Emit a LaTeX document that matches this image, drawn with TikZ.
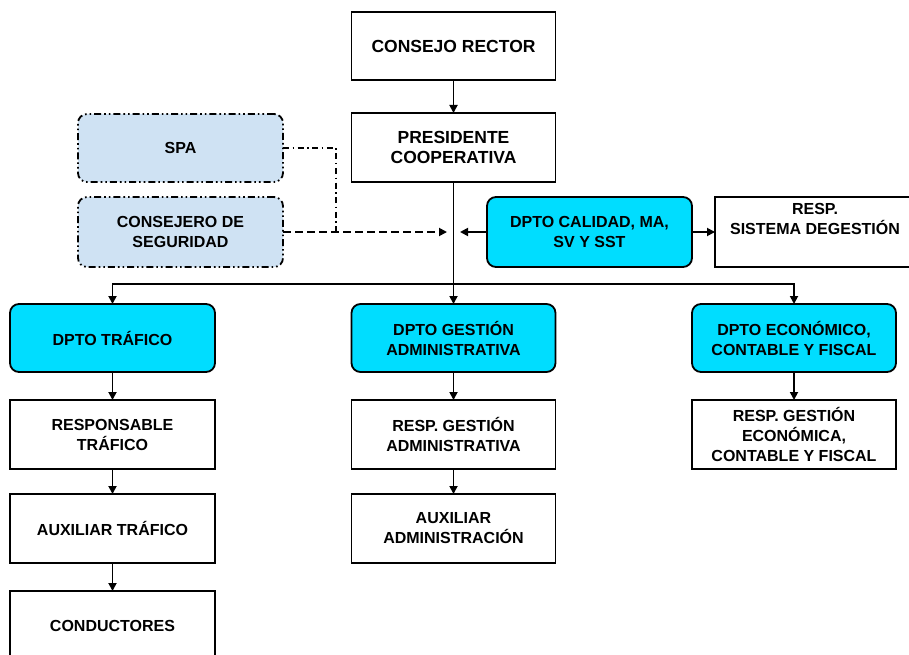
\documentclass[tikz,border=0pt]{standalone}
\usepackage{fontspec}
\setmainfont{Liberation Sans}
\usetikzlibrary{arrows.meta}
\definecolor{cyanbox}{RGB}{0,221,255}
\definecolor{lightbox}{RGB}{207,226,243}
\begin{document}
\begin{tikzpicture}[x=1pt,y=-1pt,
  base/.style={draw=black, line width=1.8pt, align=center, inner sep=0pt, outer sep=0pt, text=black,
    font=\bfseries\fontsize{16}{20}\selectfont},
  big/.style={font=\bfseries\fontsize{17.5}{20}\selectfont},
  wbox/.style={base, rectangle, fill=white},
  cbox/.style={base, rectangle, rounded corners=9pt, fill=cyanbox},
  lbox/.style={base, rectangle, rounded corners=9pt, fill=lightbox,
    dash pattern=on 7pt off 3pt on 1.6pt off 3pt on 1.6pt off 3pt},
  arr/.style={-{Triangle[length=8pt,width=8pt]}, line width=1.8pt},
  dotline/.style={line width=1.6pt, dash pattern=on 6pt off 3.5pt on 1.6pt off 3.5pt},
  dline/.style={line width=1.6pt, dash pattern=on 8pt off 4pt}]
\useasboundingbox (0,0) rectangle (909,655);
\fill[white] (0,0) rectangle (909,655);
% top
\node[wbox, big, minimum width=204pt, minimum height=68pt] (cr) at (453.5,46) {CONSEJO RECTOR};
\node[wbox, big, minimum width=204pt, minimum height=69pt] (pres) at (453.5,147.5) {PRESIDENTE\\COOPERATIVA};
% left advisory
\node[lbox, minimum width=205pt, minimum height=68pt] (spa) at (180.5,148) {SPA};
\node[lbox, minimum width=205pt, minimum height=70pt] (cons) at (180.5,232) {CONSEJERO DE\\SEGURIDAD};
% quality
\node[cbox, minimum width=205pt, minimum height=70pt] (cal) at (589.5,232) {DPTO CALIDAD, MA,\\SV Y SST};
\node[wbox, minimum width=200pt, minimum height=70pt] (rsg) at (815,232) {RESP.\\SISTEMA DEGESTIÓN\\ \strut};
% departments
\node[cbox, minimum width=205pt, minimum height=68pt] (traf) at (112.5,338) {DPTO TRÁFICO};
\node[cbox, minimum width=204pt, minimum height=68pt] (gest) at (453.5,338) {DPTO GESTIÓN\\ADMINISTRATIVA};
\node[cbox, minimum width=204pt, minimum height=68pt] (econ) at (794,338) {DPTO ECONÓMICO,\\CONTABLE Y FISCAL};
% sub-levels
\node[wbox, minimum width=205pt, minimum height=69pt] (rtraf) at (112.5,434.5) {RESPONSABLE\\TRÁFICO};
\node[wbox, minimum width=205pt, minimum height=69pt] (atraf) at (112.5,528.5) {AUXILIAR TRÁFICO};
\node[wbox, minimum width=205pt, minimum height=69pt] (cond) at (112.5,625.5) {CONDUCTORES};
\node[wbox, minimum width=204pt, minimum height=69pt] (rga) at (453.5,434.5) {RESP. GESTIÓN\\ADMINISTRATIVA};
\node[wbox, minimum width=204pt, minimum height=69pt] (aa) at (453.5,528.5) {AUXILIAR\\ADMINISTRACIÓN};
\node[wbox, minimum width=204pt, minimum height=69pt] (rge) at (794,434.5) {RESP. GESTIÓN\\ECONÓMICA,\\CONTABLE Y FISCAL};
% connectors
\coordinate (bus) at (453.5,284);
\coordinate (j) at (336,232);
\coordinate (tl) at (447,232);
\coordinate (tr) at (460,232);
\draw[arr] (cr) -- (pres);
\draw[arr] (pres) -- (gest);
\draw[arr] (bus) -| (traf);
\draw[arr] (bus) -| (econ);
\draw[dotline] (spa.east) -| (j);
\draw[dline, arr] (cons.east) -- (tl);
\draw[arr] (cal.west) -- (tr);
\draw[arr] (cal.east) -- (rsg.west);
\draw[arr] (traf) -- (rtraf);
\draw[arr] (rtraf) -- (atraf);
\draw[arr] (atraf) -- (cond);
\draw[arr] (gest) -- (rga);
\draw[arr] (rga) -- (aa);
\draw[arr] (econ) -- (rge);
\end{tikzpicture}
\end{document}
